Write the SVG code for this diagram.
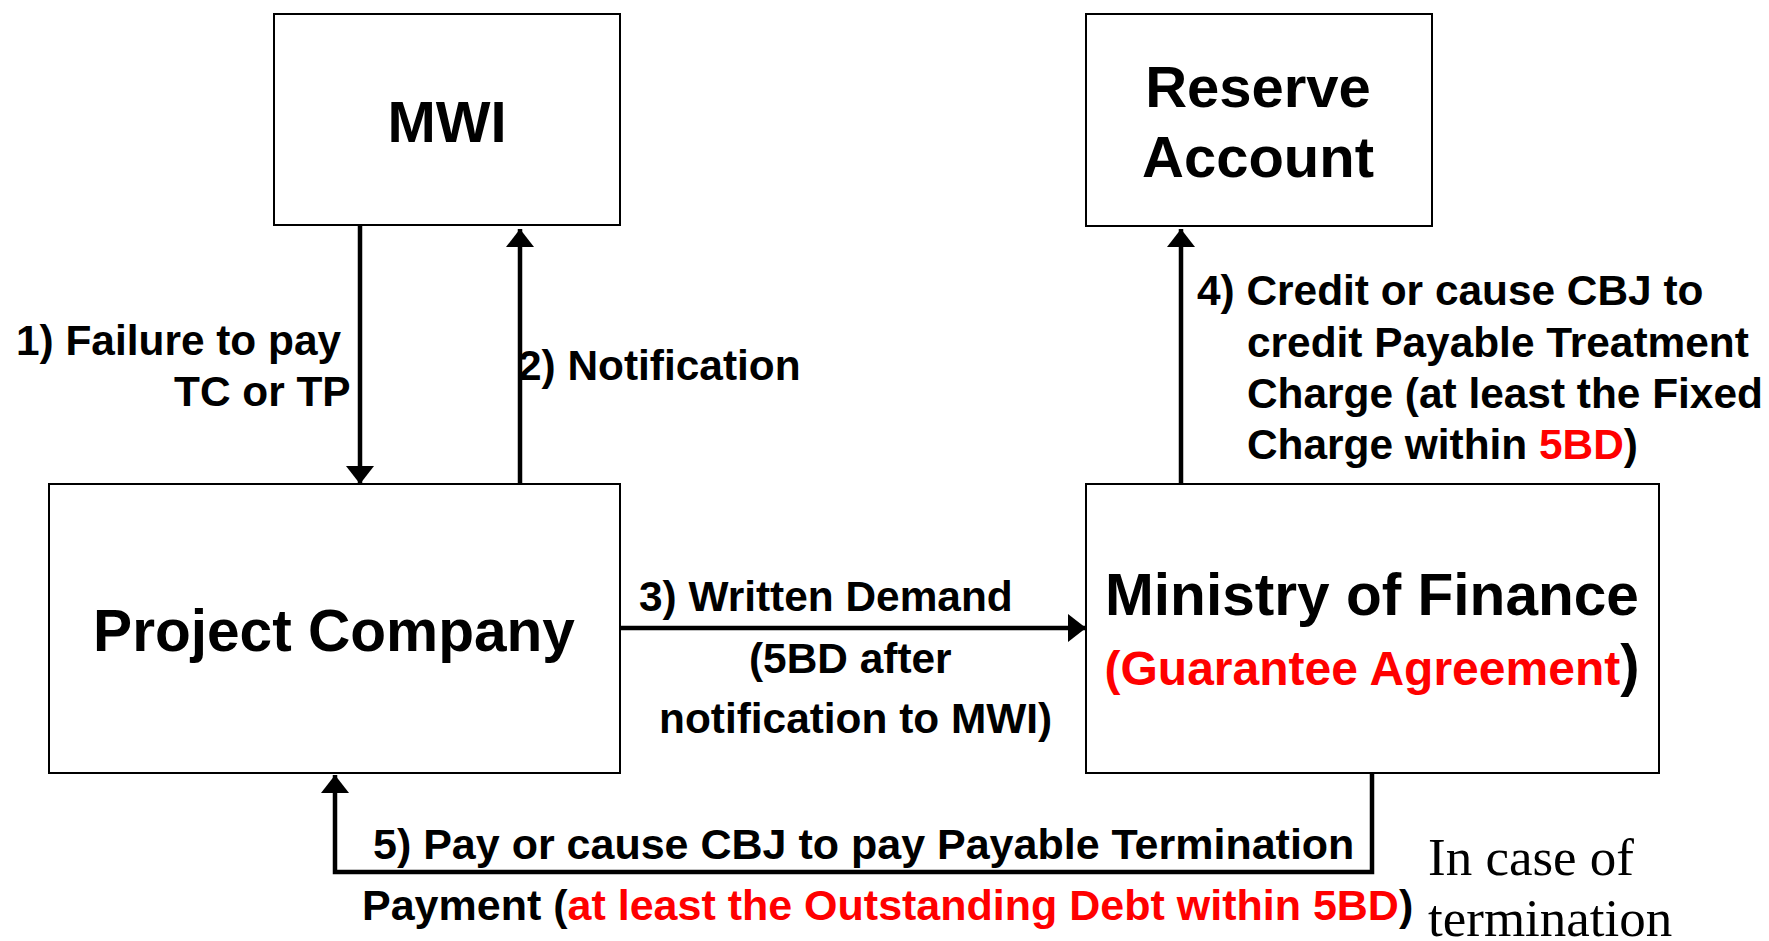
<svg xmlns="http://www.w3.org/2000/svg" width="1769" height="941" viewBox="0 0 1769 941">
<style>
.box{fill:#fff;stroke:#000;stroke-width:2}
.t{font-family:"Liberation Sans",Arial,sans-serif;font-weight:bold;fill:#000}
.title{font-size:58px}
.lbl{font-size:42.4px}
.red{fill:#ff0000}
.conn{fill:none;stroke:#000;stroke-width:4.5}
.serif{font-family:"Liberation Serif","Times New Roman",serif;font-size:53px;fill:#000}
</style>
<defs>
<marker id="ah" markerUnits="userSpaceOnUse" markerWidth="18" markerHeight="28" viewBox="0 0 18 28" refX="18" refY="14" orient="auto">
<path d="M0,0 L18,14 L0,28 z" fill="#000"/>
</marker>
</defs>
<rect width="1769" height="941" fill="#fff"/>
<g id="connectors">
<line class="conn" x1="360" y1="225" x2="360" y2="484" marker-end="url(#ah)"/>
<line class="conn" x1="520" y1="484" x2="520" y2="229" marker-end="url(#ah)"/>
<line class="conn" x1="620" y1="628" x2="1086" y2="628" marker-end="url(#ah)"/>
<line class="conn" x1="1181" y1="484" x2="1181" y2="229" marker-end="url(#ah)"/>
<polyline class="conn" points="1372,773 1372,872 335,872 335,775" marker-end="url(#ah)"/>
</g>
<g id="node-mwi">
<rect class="box" x="274" y="14" width="346" height="211"/>
<text class="t title" x="447" y="142" text-anchor="middle">MWI</text>
</g>
<g id="node-reserve">
<rect class="box" x="1086" y="14" width="346" height="212"/>
<text class="t title" x="1258" y="107" text-anchor="middle">Reserve</text>
<text class="t title" x="1258" y="177" text-anchor="middle">Account</text>
</g>
<g id="node-project">
<rect class="box" x="49" y="484" width="571" height="289"/>
<text class="t" font-size="58.6" x="334" y="651" text-anchor="middle">Project Company</text>
</g>
<g id="node-mof">
<rect class="box" x="1086" y="484" width="573" height="289"/>
<text class="t" font-size="58.6" x="1372" y="615" text-anchor="middle">Ministry of Finance</text>
<text class="t" x="1372" y="685" text-anchor="middle"><tspan class="red" font-size="48">(Guarantee Agreement</tspan><tspan font-size="58">)</tspan></text>
</g>
<g id="labels">
<text class="t lbl" x="16" y="355">1) Failure to pay</text>
<text class="t lbl" x="174" y="406">TC or TP</text>
<text class="t lbl" x="518" y="380">2) Notification</text>
<text class="t lbl" x="639" y="611">3) Written Demand</text>
<text class="t lbl" x="749" y="673">(5BD after</text>
<text class="t lbl" x="659" y="733">notification to MWI)</text>
<text class="t lbl" x="1197" y="305">4) Credit or cause CBJ to</text>
<text class="t lbl" x="1247" y="357">credit Payable Treatment</text>
<text class="t lbl" x="1247" y="408">Charge (at least the Fixed</text>
<text class="t lbl" x="1247" y="459">Charge within <tspan class="red">5BD</tspan>)</text>
<text class="t" font-size="43" x="373" y="859">5) Pay or cause CBJ to pay Payable Termination</text>
<text class="t" font-size="43" x="362" y="920">Payment (<tspan class="red">at least the Outstanding Debt within 5BD</tspan>)</text>
<text class="serif" x="1428" y="875">In case of</text>
<text class="serif" x="1428" y="936">termination</text>
</g>
</svg>
